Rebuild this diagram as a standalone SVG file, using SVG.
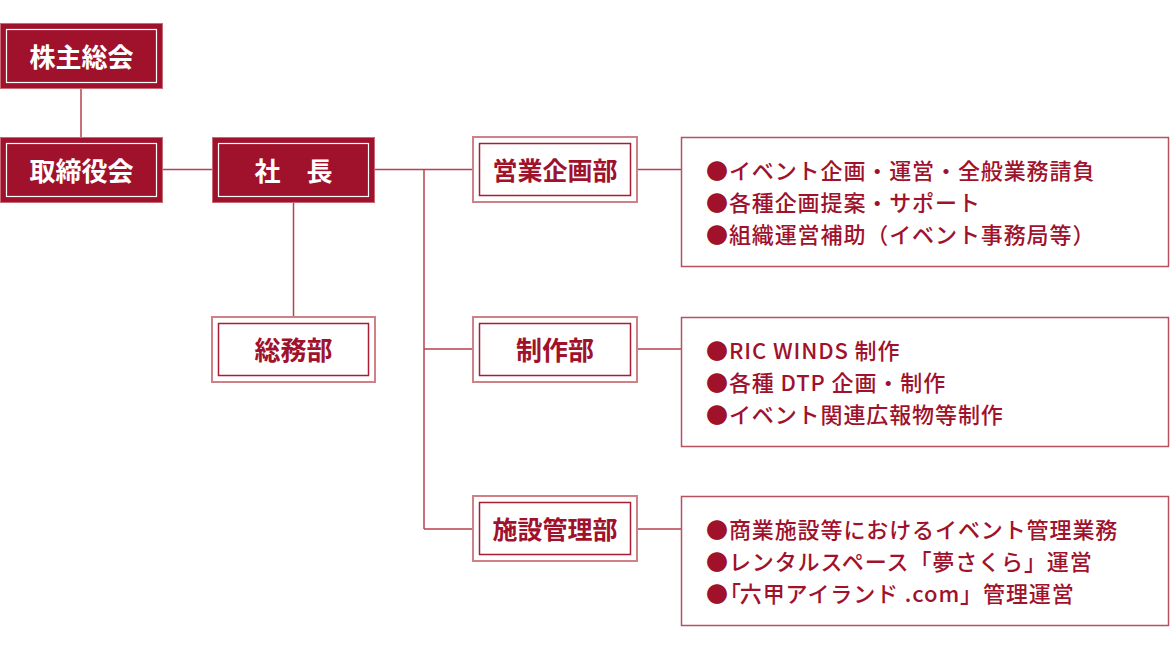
<svg xmlns="http://www.w3.org/2000/svg" width="1170" height="650" viewBox="0 0 1170 650">
<style>
.fo{fill:#a0122c;stroke:#c86a76;stroke-width:1}
.fi{fill:none;stroke:#ffffff;stroke-width:1.2}
.oo{fill:#ffffff;stroke:#cf8188;stroke-width:2}
.oi{fill:none;stroke:#a81f35;stroke-width:1.5}
.db{fill:#ffffff;stroke:#b9505f;stroke-width:1.5}
.t{font-family:"Noto Sans CJK JP","Noto Sans",sans-serif;font-weight:bold;text-anchor:middle;dominant-baseline:central}
.tw{fill:#ffffff}
.tr{fill:#a0122c}
.d{font-family:"Noto Sans CJK JP","Noto Sans",sans-serif;font-size:22px;font-weight:500;fill:#a0122c;letter-spacing:0.9px;dominant-baseline:central}
.c{stroke:#b9404f;stroke-width:1.5;fill:none}
</style>
<g id="connectors">
<line class="c" x1="81" y1="88" x2="81" y2="137"/>
<line class="c" x1="163" y1="169.5" x2="212" y2="169.5"/>
<line class="c" x1="293.5" y1="202" x2="293.5" y2="316"/>
<line class="c" x1="375" y1="169.5" x2="473" y2="169.5"/>
<line class="c" x1="424" y1="169.5" x2="424" y2="529"/>
<line class="c" x1="424" y1="349" x2="473" y2="349"/>
<line class="c" x1="424" y1="529" x2="473" y2="529"/>
<line class="c" x1="637" y1="169.5" x2="681" y2="169.5"/>
<line class="c" x1="637" y1="349" x2="681" y2="349"/>
<line class="c" x1="637" y1="529" x2="681" y2="529"/>
</g>
<g id="kabunushi">
<rect class="fo" x="0.5" y="23.5" width="162" height="65"/>
<rect class="fi" x="6.5" y="29.5" width="150" height="53"/>
<text class="t tw" x="81.5" y="55" font-size="26">株主総会</text>
</g>
<g id="torishimariyaku">
<rect class="fo" x="0.5" y="137.5" width="162" height="65"/>
<rect class="fi" x="6.5" y="143.5" width="150" height="53"/>
<text class="t tw" x="81.5" y="169" font-size="26">取締役会</text>
</g>
<g id="shacho">
<rect class="fo" x="212.5" y="137.5" width="162" height="65"/>
<rect class="fi" x="218.5" y="143.5" width="150" height="53"/>
<text class="t tw" x="293.5" y="169" font-size="26">社　長</text>
</g>
<g id="somu">
<rect class="oo" x="212" y="317" width="163" height="65"/>
<rect class="oi" x="218.5" y="323.5" width="150" height="52"/>
<text class="t tr" x="293.5" y="348.5" font-size="26">総務部</text>
</g>
<g id="eigyo">
<rect class="oo" x="473" y="137" width="164" height="65"/>
<rect class="oi" x="479.5" y="143.5" width="151" height="52"/>
<text class="t tr" x="555" y="168.5" font-size="25">営業企画部</text>
</g>
<g id="seisaku">
<rect class="oo" x="473" y="317" width="164" height="65"/>
<rect class="oi" x="479.5" y="323.5" width="151" height="52"/>
<text class="t tr" x="555" y="348.5" font-size="26">制作部</text>
</g>
<g id="shisetsu">
<rect class="oo" x="473" y="496" width="164" height="65"/>
<rect class="oi" x="479.5" y="502.5" width="151" height="52"/>
<text class="t tr" x="555" y="528" font-size="25">施設管理部</text>
</g>
<g id="eigyo-desc">
<rect class="db" x="681.5" y="137.5" width="487" height="129"/>
<text class="d" x="706" y="169">●イベント企画・運営・全般業務請負</text>
<text class="d" x="706" y="201">●各種企画提案・サポート</text>
<text class="d" x="706" y="233">●組織運営補助（イベント事務局等）</text>
</g>
<g id="seisaku-desc">
<rect class="db" x="681.5" y="317.5" width="487" height="129"/>
<text class="d" x="706" y="349">●RIC WINDS 制作</text>
<text class="d" x="706" y="381">●各種 DTP 企画・制作</text>
<text class="d" x="706" y="413">●イベント関連広報物等制作</text>
</g>
<g id="shisetsu-desc">
<rect class="db" x="681.5" y="496.5" width="487" height="129"/>
<text class="d" x="706" y="528">●商業施設等におけるイベント管理業務</text>
<text class="d" x="706" y="560">●レンタルスペース「夢さくら」運営</text>
<text class="d" x="706" y="592">●<tspan dx="-10">「</tspan><tspan dx="-2">六甲アイランド .com」</tspan>管理運営</text>
</g>
</svg>
